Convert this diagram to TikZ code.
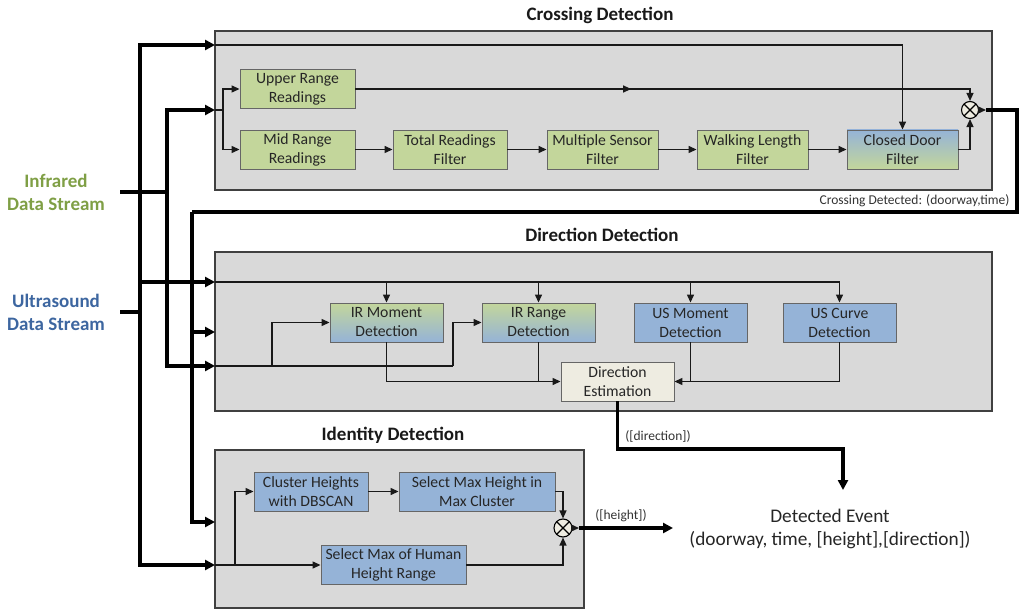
\documentclass[tikz,border=0pt]{standalone}
\usepackage{fontspec}
\setmainfont{Carlito}
\usetikzlibrary{arrows.meta,calc,decorations.markings}
\definecolor{panelgray}{HTML}{D9D9D9}
\definecolor{olive}{HTML}{C3D69B}
\definecolor{sky}{HTML}{95B3D7}
\definecolor{beige}{HTML}{EEECE1}
\definecolor{irgreen}{HTML}{7F9F45}
\definecolor{usblue}{HTML}{3D66A0}
\begin{document}
\begin{tikzpicture}[x=1pt,y=-1pt,
  panel/.style={draw=black!75, fill=panelgray, line width=1.2pt},
  blk/.style={draw=black!60, line width=0.9pt, minimum height=39pt, inner sep=0pt,
    align=center, font=\fontsize{15.7}{19}\selectfont, text=black!85},
  green/.style={blk, fill=olive},
  blue/.style={blk, fill=sky},
  title/.style={font=\bfseries\fontsize{19}{22}\selectfont, text=black!90},
  stream/.style={font=\bfseries\fontsize{19}{23}\selectfont, align=center},
  lbl/.style={font=\fontsize{13.5}{16}\selectfont, text=black!80},
  flow/.style={line width=1.3pt, draw=black!90},
  tip/.style={-{Triangle[length=8pt,width=7pt]}},
  midtip/.style={postaction={decorate}, decoration={markings,
    mark=at position #1 with {\arrow{Triangle[length=8pt,width=7pt]}}}},
  bus/.style={line width=3.5pt, draw=black},
  btip/.style={-{Triangle[length=10pt,width=10pt]}},
  mux/.style={circle, draw=black, line width=1.1pt, fill=beige, minimum size=17pt, inner sep=0pt,
    path picture={\draw[line width=1.1pt]
      (path picture bounding box.north west) -- (path picture bounding box.south east)
      (path picture bounding box.north east) -- (path picture bounding box.south west);}}
]
\useasboundingbox[fill=white] (0,0) rectangle (1032,609);

% ---------- panels and titles ----------
\draw[panel] (215,31) rectangle (992,190);
\draw[panel] (215,252) rectangle (992,411);
\draw[panel] (215,450) rectangle (584,608);
\node[title] (tCross) at (600,15) {Crossing Detection};
\node[title] (tDir) at (602,235) {Direction Detection};
\node[title] (tId) at (393,435) {Identity Detection};

% ---------- data streams ----------
\node[stream, text=irgreen] (ir) at (56,192) {Infrared\\Data Stream};
\node[stream, text=usblue] (us) at (56,312) {Ultrasound\\Data Stream};

% ---------- crossing detection blocks ----------
\node[green, minimum width=115pt] (up) at (297.5,89) {Upper Range\\Readings};
\node[green, minimum width=115pt] (mid) at (297.5,149.5) {Mid Range\\Readings};
\node[green, minimum width=114pt] (tot) at (450,149.5) {Total Readings\\Filter};
\node[green, minimum width=111pt] (mul) at (602.5,149.5) {Multiple Sensor\\Filter};
\node[green, minimum width=111pt] (walk) at (752.5,149.5) {Walking Length\\Filter};
\node[blk, minimum width=111pt, top color=sky, bottom color=olive] (cdf) at (902.5,149.5) {Closed Door\\Filter};
\node[mux] (mux1) at (970,110) {};

% ---------- direction detection blocks ----------
\node[blk, minimum width=113pt, top color=olive, bottom color=sky] (irm) at (386.5,322.5) {IR Moment\\Detection};
\node[blk, minimum width=113pt, top color=olive, bottom color=sky] (irr) at (538.5,322.5) {IR Range\\Detection};
\node[blue, minimum width=113pt] (usm) at (690.5,322.5) {US Moment\\Detection};
\node[blue, minimum width=113pt] (usc) at (839.5,322.5) {US Curve\\Detection};
\node[blk, fill=beige, minimum width=113pt] (dest) at (617.5,381.5) {Direction\\Estimation};

% ---------- identity detection blocks ----------
\node[blue, minimum width=114pt] (clu) at (311,491.5) {Cluster Heights\\with DBSCAN};
\node[blue, minimum width=156pt] (smh) at (477,491.5) {Select Max Height in\\Max Cluster};
\node[blue, minimum width=145pt] (smr) at (393.5,565) {Select Max of Human\\Height Range};
\node[mux, minimum size=18pt] (mux2) at (563,528) {};

% ---------- detected event ----------
\node[font=\fontsize{19.3}{23}\selectfont, text=black!85, align=center] (evt) at (830,529)
  {Detected Event\\(doorway, time, [height],[direction])};

% ---------- junction and port coordinates ----------
\coordinate (irL) at (120,192);
\coordinate (irJ) at (167,192);
\coordinate (usL) at (120,312);
\coordinate (usJ) at (140,312);
\coordinate (cIn1) at (215,45);
\coordinate (cIn2) at (215,110);
\coordinate (cSplit) at (223,110);
\coordinate (cOut) at (986,110);
\coordinate (crR) at (1017,212);
\coordinate (crL) at (192,212);
\coordinate (dIn1) at (215,282);
\coordinate (dIn2) at (215,332);
\coordinate (dIn3) at (215,366);
\coordinate (dK1) at (272,366);
\coordinate (dK2) at (453,366);
\coordinate (dirK) at (843,449);
\coordinate (evtIn) at (843,490);
\coordinate (iIn1) at (215,522);
\coordinate (iIn2) at (215,565);
\coordinate (iK) at (235,565);
\coordinate (hOut) at (579,528);
\coordinate (evtH) at (673,528);

% ---------- input buses ----------
\draw[bus] (usL) -- (usJ);
\draw[bus,btip] (usJ) |- (cIn1);
\draw[bus,btip] (usJ) |- (dIn1);
\draw[bus,btip] (usJ) |- (iIn2);
\draw[bus] (irL) -- (irJ);
\draw[bus,btip] (irJ) |- (cIn2);
\draw[bus,btip] (irJ) |- (dIn3);

% ---------- crossing detection flow ----------
\draw[flow,tip] (cIn1) -| (cdf.north);
\draw[flow] (cIn2) -- (cSplit);
\draw[flow,tip] (cSplit) |- (up.west);
\draw[flow,tip] (cSplit) |- (mid.west);
\draw[flow,tip] (mid) -- (tot);
\draw[flow,tip] (tot) -- (mul);
\draw[flow,tip] (mul) -- (walk);
\draw[flow,tip] (walk) -- (cdf);
\draw[flow,tip,midtip=0.44] (up.east) -| (mux1.north);
\draw[flow,tip] (cdf.east) -| (mux1.south);
\draw[flow,tip] (mux1.east) -- (cOut);
\draw[bus] (cOut) -| (crR) -- (crL);
\draw[bus,btip] (crL) |- (dIn2);
\draw[bus,btip] (crL) |- (iIn1);
\node[lbl, anchor=south east] (crossLbl) at (1013,210) {Crossing Detected: (doorway,time)};

% ---------- direction detection flow ----------
\draw[flow,tip] (dIn1) -| (usc.north);
\foreach \n in {irm,irr,usm} \draw[flow,tip] (\n.north |- dIn1) -- (\n.north);
\draw[flow] (dIn3) -- (dK2);
\draw[flow,tip] (dK2) |- (irr.west);
\draw[flow,tip] (dK1) |- (irm.west);
\draw[flow,tip] (irm.south) |- (dest.west);
\draw[flow] (irr.south) -- (irr.south |- dest.west);
\draw[flow,tip] (usc.south) |- (dest.east);
\draw[flow] (usm.south) -- (usm.south |- dest.east);
\draw[bus,btip] (dest.south) |- (dirK) -- (evtIn);
\node[lbl] (dirLbl) at (658,436) {([direction])};

% ---------- identity detection flow ----------
\draw[flow,tip] (iIn2) -- (smr.west);
\draw[flow,tip] (iK) |- (clu.west);
\draw[flow,tip] (clu) -- (smh);
\draw[flow,tip] (smh.east) -| (mux2.north);
\draw[flow,tip] (smr.east) -| (mux2.south);
\draw[flow,tip] (mux2.east) -- (hOut);
\draw[bus,btip] (hOut) -- (evtH);
\node[lbl] (hLbl) at (621,516) {([height])};
\end{tikzpicture}
\end{document}
